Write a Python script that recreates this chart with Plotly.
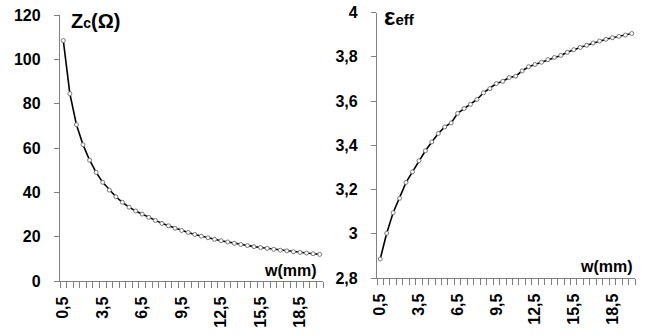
import plotly.graph_objects as go

w_mm = [0.5, 1.0, 1.5, 2.0, 2.5, 3.0, 3.5, 4.0, 4.5, 5.0,
        5.5, 6.0, 6.5, 7.0, 7.5, 8.0, 8.5, 9.0, 9.5, 10.0,
        10.5, 11.0, 11.5, 12.0, 12.5, 13.0, 13.5, 14.0, 14.5, 15.0,
        15.5, 16.0, 16.5, 17.0, 17.5, 18.0, 18.5, 19.0, 19.5, 20.0]

zc_ohm = [108.5, 84.5, 70.5, 61.5, 54.5, 49.0, 44.5, 41.0, 38.0, 35.5,
          33.3, 31.6, 30.2, 28.7, 27.3, 26.0, 24.9, 23.8, 22.8, 21.9,
          21.0, 20.2, 19.5, 18.8, 18.2, 17.6, 17.0, 16.5, 16.0, 15.5,
          15.1, 14.7, 14.3, 13.9, 13.6, 13.2, 12.9, 12.6, 12.3, 12.0]

eps_eff = [2.886, 3.002, 3.095, 3.160, 3.232, 3.280, 3.330, 3.375, 3.415, 3.453,
           3.483, 3.501, 3.544, 3.566, 3.585, 3.607, 3.637, 3.656, 3.679, 3.689,
           3.706, 3.712, 3.736, 3.755, 3.765, 3.775, 3.787, 3.797, 3.806, 3.820,
           3.832, 3.842, 3.852, 3.862, 3.871, 3.879, 3.886, 3.892, 3.898, 3.905]

x_tick_vals = [0.5, 3.5, 6.5, 9.5, 12.5, 15.5, 18.5]
x_tick_text = ["0,5", "3,5", "6,5", "9,5", "12,5", "15,5", "18,5"]
zc_tick_vals = [0, 20, 40, 60, 80, 100, 120]
zc_tick_text = ["0", "20", "40", "60", "80", "100", "120"]
eps_tick_vals = [2.8, 3.0, 3.2, 3.4, 3.6, 3.8, 4.0]
eps_tick_text = ["2,8", "3", "3,2", "3,4", "3,6", "3,8", "4"]

FONT = "Liberation Sans, Arial, sans-serif"
AXC = "#808080"

W, H = 650, 335

def px(X):
    return X / W

def py(Y):
    return 1 - Y / H

fig = go.Figure()
marker = dict(symbol="circle", size=4, color="white", line=dict(color="#777777", width=1))
fig.add_trace(go.Scatter(x=w_mm, y=zc_ohm, mode="lines+markers", xaxis="x", yaxis="y",
                         line=dict(color="black", width=1.6), marker=marker, showlegend=False))
fig.add_trace(go.Scatter(x=w_mm, y=eps_eff, mode="lines+markers", xaxis="x2", yaxis="y2",
                         line=dict(color="black", width=1.6), marker=marker, showlegend=False))

def xaxis(domain, anchor):
    return dict(domain=domain, anchor=anchor, range=[0.25, 20.25], automargin=False,
                tickmode="array", tickvals=x_tick_vals, ticktext=x_tick_text,
                tickangle=-90, ticks="", ticklen=0, ticklabelstandoff=8,
                tickfont=dict(family=FONT, size=16, color="black", weight="bold"),
                showline=True, linecolor=AXC, linewidth=1.3, showgrid=False, zeroline=False,
                minor=dict(tickmode="linear", tick0=0.25, dtick=0.5, ticks="outside",
                           ticklen=6, tickcolor=AXC, tickwidth=1, showgrid=False))

def yaxis(domain, anchor, rng, vals, text):
    return dict(domain=domain, anchor=anchor, range=rng, tickmode="array", automargin=False,
                tickvals=vals, ticktext=text, ticks="outside", ticklen=5, tickcolor=AXC,
                ticklabelstandoff=10,
                tickfont=dict(family=FONT, size=16, color="black", weight="bold"),
                showline=True, linecolor=AXC, linewidth=1.3, showgrid=False, zeroline=False)

fig.update_layout(
    width=W, height=H, margin=dict(l=0, r=0, t=0, b=0),
    paper_bgcolor="white", plot_bgcolor="white",
    xaxis=xaxis([px(60), px(323)], "y"),
    yaxis=yaxis([py(281), py(15)], "x", [0, 120], zc_tick_vals, zc_tick_text),
    xaxis2=xaxis([px(377), px(635)], "y2"),
    yaxis2=yaxis([py(278), py(12.5)], "x2", [2.8, 4.0], eps_tick_vals, eps_tick_text),
    annotations=[
        dict(xref="paper", yref="paper", x=px(69), y=py(21), xanchor="left", yanchor="middle",
             text="<b><span style='font-size:20px'>Z</span><span style='font-size:14px'>c</span><span style='font-size:20px'>(Ω)</span></b>",
             showarrow=False, font=dict(family=FONT, color="black")),
        dict(xref="paper", yref="paper", x=px(382), y=py(17), xanchor="left", yanchor="middle",
             text="<b><span style='font-size:24px'>ε</span><span style='font-size:15px'>eff</span></b>",
             showarrow=False, font=dict(family=FONT, color="black")),
        dict(xref="paper", yref="paper", x=px(319), y=py(270), xanchor="right", yanchor="middle",
             text="<b>w(mm)</b>", showarrow=False, font=dict(family=FONT, size=16, color="black")),
        dict(xref="paper", yref="paper", x=px(635), y=py(266), xanchor="right", yanchor="middle",
             text="<b>w(mm)</b>", showarrow=False, font=dict(family=FONT, size=16, color="black")),
    ],
)

fig.write_html("out.html", config={"displayModeBar": False},
               post_script="document.body.style.margin='0';")
